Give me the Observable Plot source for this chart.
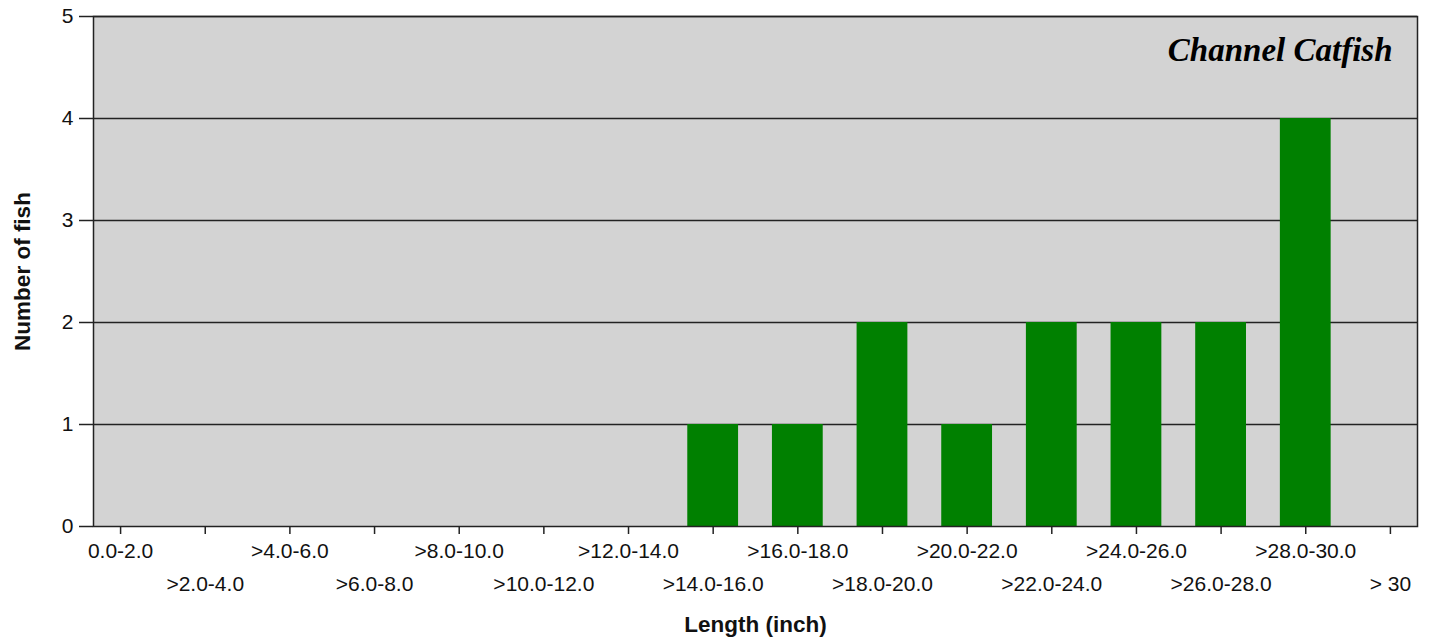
<!DOCTYPE html>
<html>
<head>
<meta charset="utf-8">
<script src="https://cdn.jsdelivr.net/npm/d3@7"></script>
<script src="https://cdn.jsdelivr.net/npm/@observablehq/plot@0.6"></script>
<style>
  html, body { margin: 0; padding: 0; background: #fff; }
</style>
</head>
<body>
<div id="chart"></div>
<script>
const categories = ["0.0-2.0", ">2.0-4.0", ">4.0-6.0", ">6.0-8.0", ">8.0-10.0", ">10.0-12.0", ">12.0-14.0", ">14.0-16.0", ">16.0-18.0", ">18.0-20.0", ">20.0-22.0", ">22.0-24.0", ">24.0-26.0", ">26.0-28.0", ">28.0-30.0", "> 30"];
const counts = [0, 0, 0, 0, 0, 0, 0, 1, 1, 2, 1, 2, 2, 2, 4, 0];
const yTicks = [0, 1, 2, 3, 4, 5];
const title = "Channel Catfish";
const xTitle = "Length (inch)";
const yTitle = "Number of fish";

const data = categories.map((c, i) => ({category: c, count: counts[i]}));
const evenCats = categories.filter((c, i) => i % 2 === 0);
const oddCats = categories.filter((c, i) => i % 2 === 1);

const chart = Plot.plot({
  width: 1429,
  height: 637,
  marginLeft: 93,
  marginRight: 12,
  marginTop: 16,
  marginBottom: 111,
  style: {fontFamily: "'Liberation Sans', Arial, sans-serif", fontSize: "21px", color: "#111", background: "#fff", overflow: "visible"},
  x: {type: "band", domain: categories, paddingInner: 0.4, paddingOuter: 0.02, round: false, label: null},
  y: {domain: [0, 5], label: null},
  marks: [
    Plot.frame({fill: "#d3d3d3", stroke: null}),
    Plot.gridY(yTicks.slice(1), {stroke: "#222", strokeOpacity: 1, strokeWidth: 1.5}),
    Plot.barY(data, {x: "category", y: "count", fill: "#008000"}),
    Plot.frame({stroke: "#222", strokeWidth: 1.5}),
    Plot.axisY({ticks: yTicks, tickSize: 14, tickPadding: 6, tickFormat: d => String(d), stroke: "#222", strokeWidth: 1.5}),
    Plot.axisX({ticks: evenCats, tickSize: 8, tickPadding: 9, stroke: "#222", strokeWidth: 1.5}),
    Plot.axisX({ticks: oddCats, tickSize: 8, tickPadding: 42, stroke: "#222", strokeWidth: 1.5}),
    Plot.text([yTitle], {frameAnchor: "left", dx: -71, rotate: -90, textAnchor: "middle", fontWeight: "bold", fontSize: 22.5, fill: "#111"}),
    Plot.text([xTitle], {frameAnchor: "bottom", dy: 105, fontWeight: "bold", fontSize: 22.5, fill: "#111"}),
    Plot.text([title], {frameAnchor: "top-right", dx: -25, dy: 34, textAnchor: "end", lineAnchor: "middle", fontFamily: "'Liberation Serif', 'Times New Roman', serif", fontStyle: "italic", fontWeight: "bold", fontSize: 33, fill: "#000"})
  ]
});
document.getElementById("chart").appendChild(chart);
</script>
</body>
</html>
